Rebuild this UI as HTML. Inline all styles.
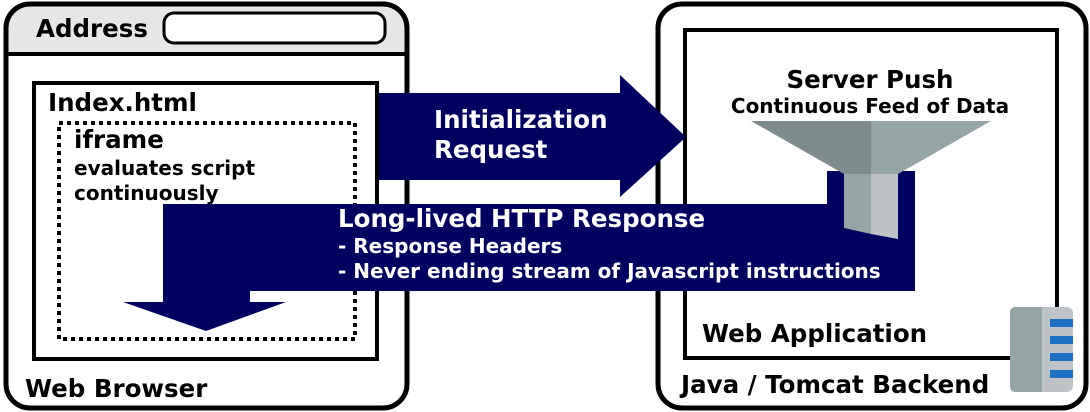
<!DOCTYPE html>
<html><head><style>body{margin:0;background:#fff}svg{display:block}text{font-family:"DejaVu Sans","Liberation Sans",sans-serif;font-weight:bold}</style></head>
<body>
<svg width="1090" height="412" viewBox="0 0 1090 412" xmlns="http://www.w3.org/2000/svg">
<!-- browser -->
<path d="M29 4 H384 Q407 4 407 27 V54 H6 V27 Q6 4 29 4Z" fill="#e6e6e6"/>
<rect x="6" y="4" width="401" height="404" rx="24" fill="none" stroke="#000" stroke-width="5"/>
<line x1="6" y1="54" x2="407" y2="54" stroke="#000" stroke-width="4"/>
<text x="36" y="37" font-size="24.5">Address</text>
<rect x="164" y="13" width="221" height="30" rx="10" fill="#fff" stroke="#000" stroke-width="3"/>
<rect x="34" y="83" width="343" height="276" fill="#fff" stroke="#000" stroke-width="4"/>
<text x="48" y="111" font-size="24.5">Index.html</text>
<rect x="59" y="123" width="296" height="216" fill="none" stroke="#000" stroke-width="4" stroke-dasharray="4,4"/>
<text x="74" y="148" font-size="24.5">iframe</text>
<text x="74" y="175" font-size="20">evaluates script</text>
<text x="74" y="200" font-size="20">continuously</text>
<text x="25" y="397" font-size="24.5">Web Browser</text>
<!-- backend -->
<rect x="658" y="4" width="428" height="404" rx="24" fill="none" stroke="#000" stroke-width="5"/>
<rect x="685" y="30" width="372" height="328" fill="#fff" stroke="#000" stroke-width="4"/>
<text x="870" y="88" font-size="24.5" text-anchor="middle">Server Push</text>
<text x="870" y="113" font-size="20" text-anchor="middle">Continuous Feed of Data</text>
<text x="702" y="342" font-size="24.5">Web Application</text>
<text x="681" y="393" font-size="24.5">Java / Tomcat Backend</text>
<!-- init arrow -->
<polygon points="379,93 620,93 620,75 686,137 620,197 620,180 379,180" fill="#000060"/>
<text x="434" y="128" font-size="24.5" fill="#fff">Initialization</text>
<text x="434" y="158" font-size="24.5" fill="#fff">Request</text>
<!-- response arrow -->
<polygon points="163,204 827,204 827,171 915,171 915,291 250,291 250,302 286,302 206,331 123,302 163,302" fill="#000060"/>
<text x="338" y="227" font-size="24.5" fill="#fff">Long-lived HTTP Response</text>
<text x="338" y="253" font-size="20" fill="#fff">- Response Headers</text>
<text x="338" y="278" font-size="20" fill="#fff">- Never ending stream of Javascript instructions</text>
<!-- funnel -->
<polygon points="751,121 871,121 871,174 844,174" fill="#7f8c8d"/>
<polygon points="871,121 991,121 898,174 871,174" fill="#95a5a6"/>
<polygon points="844,174 871,174 871,234 844,228" fill="#95a5a6"/>
<polygon points="871,174 898,174 898,239 871,234" fill="#bdc3c7"/>
<!-- server icon -->
<rect x="1010" y="307" width="63" height="85" rx="6" fill="#bdc3c7"/>
<path d="M1016 307 H1042 V392 H1016 Q1010 392 1010 386 V313 Q1010 307 1016 307Z" fill="#95a5a6"/>
<rect x="1050" y="319" width="23" height="8" fill="#1f6fc5"/>
<rect x="1050" y="336" width="23" height="8" fill="#1f6fc5"/>
<rect x="1050" y="353" width="23" height="8" fill="#1f6fc5"/>
<rect x="1050" y="370" width="23" height="8" fill="#1f6fc5"/>
</svg>
</body></html>
